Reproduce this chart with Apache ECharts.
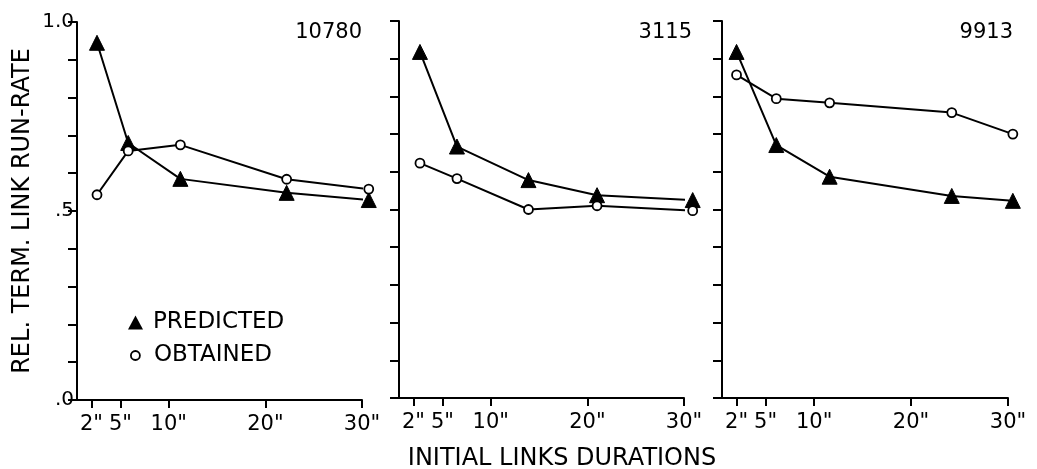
<!DOCTYPE html>
<html>
<head>
<meta charset="utf-8">
<title>Rel. term. link run-rate</title>
<script src="https://cdn.jsdelivr.net/npm/echarts@6/dist/echarts.min.js"></script>
<style>
  html, body { margin: 0; padding: 0; background: #fff; }
  #chart { width: 1037px; height: 469px; }
</style>
</head>
<body>
<div id="chart"></div>
<script>
// subjects (one panel each)
const subjects = ['10780', '3115', '9913'];

// x positions (seconds) of the points, read per panel
const xs10780 = [2.57, 5.8, 11.2, 22.2, 30.7];
const xs3115 = [2.67, 6.5, 13.9, 21.0, 30.9];
const xs9913 = [2.0, 6.1, 11.6, 24.2, 30.5];

// predicted / obtained relative run-rates
const pred10780 = [0.945, 0.68, 0.585, 0.548, 0.529];
const obt10780 = [0.543, 0.659, 0.675, 0.584, 0.558];
const pred3115 = [0.918, 0.667, 0.578, 0.538, 0.525];
const obt3115 = [0.623, 0.582, 0.500, 0.510, 0.497];
const pred9913 = [0.918, 0.671, 0.587, 0.536, 0.523];
const obt9913 = [0.857, 0.794, 0.783, 0.757, 0.700];

// axis ticks
const xTicks = [2, 5, 10, 20, 30];
const yLabelTicks = [0, 0.5, 1];

const xsList = [xs10780, xs3115, xs9913];
const predList = [pred10780, pred3115, pred9913];
const obtList = [obt10780, obt3115, obt9913];

const FONT = 'DejaVu Sans';
const INK = '#000';

// panel boxes in pixels (idRight = right edge of the subject number)
const panels = [
  { left: 77, top: 22, width: 285, height: 378, idRight: 362 },
  { left: 399, top: 21, width: 285, height: 377, idRight: 692 },
  { left: 722, top: 21, width: 286, height: 377, idRight: 1013 }
];

function pairs(xs, ys) {
  return xs.map(function (x, i) { return [x, ys[i]]; });
}

function yFmt(v) {
  if (v === 1) return '1.0';
  if (v === 0) return '.0';
  return '.5';
}

let grid = [], xAxis = [], yAxis = [], series = [], title = [];

panels.forEach(function (p, i) {
  grid.push({ left: p.left, top: p.top, width: p.width, height: p.height });

  xAxis.push({
    type: 'value',
    gridIndex: i,
    min: 0.5,
    max: 30,
    splitLine: { show: false },
    axisLine: { lineStyle: { color: INK, width: 2 } },
    axisTick: {
      customValues: xTicks,
      length: 8,
      lineStyle: { color: INK, width: 2 }
    },
    axisLabel: {
      customValues: xTicks,
      formatter: function (v) { return v + '"'; },
      color: INK,
      fontFamily: FONT,
      fontSize: 21,
      margin: 14
    }
  });

  yAxis.push({
    type: 'value',
    gridIndex: i,
    min: 0,
    max: 1,
    interval: 0.1,
    splitLine: { show: false },
    axisLine: { lineStyle: { color: INK, width: 2 } },
    axisTick: { length: 9, lineStyle: { color: INK, width: 2 } },
    axisLabel: i === 0 ? {
      customValues: yLabelTicks,
      formatter: yFmt,
      color: INK,
      fontFamily: FONT,
      fontSize: 20,
      margin: 3
    } : { show: false },
    name: i === 0 ? 'REL. TERM. LINK RUN-RATE' : '',
    nameLocation: 'middle',
    nameGap: 42,
    nameTextStyle: { color: INK, fontFamily: FONT, fontSize: 24 }
  });

  series.push({
    name: 'PREDICTED',
    type: 'line',
    xAxisIndex: i,
    yAxisIndex: i,
    clip: false,
    data: pairs(xsList[i], predList[i]),
    symbol: 'triangle',
    symbolSize: 15,
    lineStyle: { color: INK, width: 2 },
    itemStyle: { color: INK, borderColor: INK }
  });
  series.push({
    name: 'OBTAINED',
    type: 'line',
    xAxisIndex: i,
    yAxisIndex: i,
    clip: false,
    data: pairs(xsList[i], obtList[i]),
    symbol: 'circle',
    symbolSize: 9,
    lineStyle: { color: INK, width: 2 },
    itemStyle: { color: '#fff', borderColor: INK, borderWidth: 1.8 }
  });

  // subject number in the upper right of each panel
  title.push({
    text: subjects[i],
    right: 1037 - p.idRight - 5,
    top: 17,
    textStyle: { color: INK, fontFamily: FONT, fontSize: 21, fontWeight: 'normal' }
  });
});

// shared x axis title
title.push({
  text: 'INITIAL LINKS DURATIONS',
  left: 557,
  textAlign: 'center',
  top: 442,
  textStyle: { color: INK, fontFamily: FONT, fontSize: 24, fontWeight: 'normal' }
});

const legendText = { color: INK, fontFamily: FONT, fontSize: 23 };

let chart = echarts.init(document.getElementById('chart'), null, { renderer: 'canvas' });
chart.setOption({
  animation: false,
  backgroundColor: '#fff',
  title: title,
  // two legend boxes so the circle can be drawn smaller than the triangle
  legend: [
    {
      left: 123,
      top: 306,
      itemWidth: 15,
      itemHeight: 14,
      data: [{ name: 'PREDICTED', icon: 'triangle' }],
      textStyle: Object.assign({ padding: [0, 0, 0, 5] }, legendText)
    },
    {
      left: 125,
      top: 339,
      itemWidth: 9,
      itemHeight: 9,
      data: [{ name: 'OBTAINED', icon: 'circle', itemStyle: { color: '#fff', borderColor: INK, borderWidth: 1.8 } }],
      textStyle: Object.assign({ padding: [0, 0, 0, 9] }, legendText)
    }
  ],
  grid: grid,
  xAxis: xAxis,
  yAxis: yAxis,
  series: series
});
</script>
</body>
</html>
